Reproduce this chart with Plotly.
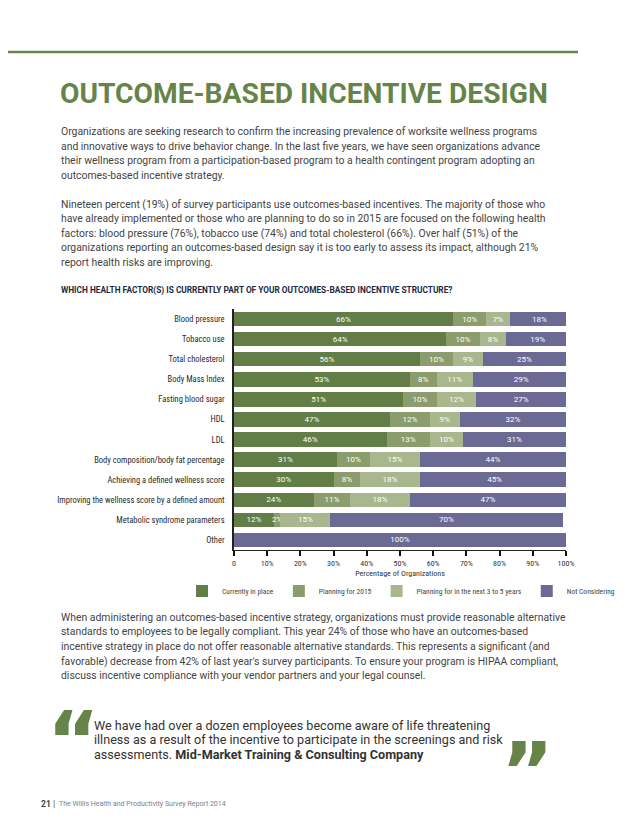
import plotly.graph_objects as go

categories = [
    "Blood pressure", "Tobacco use", "Total cholesterol", "Body Mass Index",
    "Fasting blood sugar", "HDL", "LDL", "Body composition/body fat percentage",
    "Achieving a defined wellness score", "Improving the wellness score by a defined amount",
    "Metabolic syndrome parameters", "Other",
]
series_names = ["Currently in place", "Planning for 2015", "Planning for in the next 3 to 5 years", "Not Considering"]
current = [66, 64, 56, 53, 51, 47, 46, 31, 30, 24, 12, 0]
plan_2015 = [10, 10, 10, 8, 10, 12, 13, 10, 8, 11, 2, 0]
plan_3to5 = [7, 8, 9, 11, 12, 9, 10, 15, 18, 18, 15, 0]
not_considering = [18, 19, 25, 29, 27, 32, 31, 44, 45, 47, 70, 100]
tick_vals = [0, 10, 20, 30, 40, 50, 60, 70, 80, 90, 100]
tick_text = ["0", "10%", "20%", "30%", "40%", "50%", "60%", "70%", "80%", "90%", "100%"]
colors = ["#627d45", "#8b9d6c", "#a9b78e", "#6b6a95"]

NARROW = "Liberation Sans Narrow, Roboto Condensed, DejaVu Sans Condensed, Roboto"

# the page body has an 8px margin; the figure starts at (8, 8) of the window
OFF = 8
FW, FH = 638 - OFF, 826 - OFF
L, R, T, B = 226, 72, 301, 276
PW, PH = FW - L - R, FH - T - B

def X(page_x):
    return (page_x - OFF - L) / PW

def Y(page_y):
    return (FH - B - (page_y - OFF)) / PH

fig = go.Figure()
for name, vals, col in zip(series_names, [current, plan_2015, plan_3to5, not_considering], colors):
    fig.add_trace(go.Bar(
        y=categories, x=vals, name=name, orientation="h",
        marker=dict(color=col, line=dict(width=0)),
        text=[f"{v}%" if v > 0 else "" for v in vals],
        textposition="inside", insidetextanchor="middle", textangle=0,
        textfont=dict(color="white", size=8, family="Roboto"),
        constraintext="none", cliponaxis=True,
    ))

fig.update_layout(
    width=FW, height=FH, autosize=False,
    margin=dict(l=L, r=R, t=T, b=B),
    barmode="stack", bargap=0.28,
    paper_bgcolor="white", plot_bgcolor="white",
    uniformtext=dict(minsize=8, mode="show"),
    font=dict(family="Roboto", color="#333333"),
    legend=dict(orientation="h", traceorder="normal", x=X(182), xanchor="left", y=Y(591),
                yanchor="middle", font=dict(size=7.5, color="#444444", family=NARROW),
                itemwidth=30, tracegroupgap=0, bgcolor="rgba(0,0,0,0)"),
    showlegend=True,
)
fig.update_xaxes(range=[0, 100], tickvals=tick_vals, ticktext=tick_text, showgrid=False,
                 zeroline=False, showline=True, linecolor="#222222", linewidth=1,
                 ticks="outside", ticklen=5, tickwidth=2, tickcolor="#111111",
                 tickfont=dict(size=8, color="#333333", family=NARROW),
                 title=dict(text="Percentage of Organizations",
                            font=dict(size=8, color="#333333", family=NARROW), standoff=3))
fig.update_yaxes(categoryorder="array", categoryarray=categories, autorange="reversed",
                 showgrid=False, showline=True, linecolor="#222222", linewidth=1.5,
                 ticks="", ticklabelstandoff=6,
                 tickfont=dict(size=8.5, color="#2b2b2b", family=NARROW))

# header rule
fig.add_shape(type="line", xref="paper", yref="paper", x0=X(OFF), x1=X(578), y0=Y(52), y1=Y(52),
              line=dict(color="#6b8550", width=2.5))

def text(x, y, s, size=10.4, color="#444444", family="Roboto", anchor="left"):
    fig.add_annotation(xref="paper", yref="paper", x=X(x), y=Y(y), text=s, showarrow=False,
                       xanchor=anchor, yanchor="middle", align="left",
                       font=dict(size=size, color=color, family=family))

text(58, 93, "<b>OUTCOME-BASED INCENTIVE DESIGN</b>", size=28.2, color="#66844a", family="Roboto")

p1 = [
    "Organizations are seeking research to confirm the increasing prevalence of worksite wellness programs",
    "and innovative ways to drive behavior change. In the last five years, we have seen organizations advance",
    "their wellness program from a participation-based program to a health contingent program adopting an",
    "outcomes-based incentive strategy.",
]
p1_y = [131, 146, 160.5, 175]
for s, y in zip(p1, p1_y):
    text(59, y, s)
p2 = [
    "Nineteen percent (19%) of survey participants use outcomes-based incentives. The majority of those who",
    "have already implemented or those who are planning to do so in 2015 are focused on the following health",
    "factors: blood pressure (76%), tobacco use (74%) and total cholesterol (66%). Over half (51%) of the",
    "organizations reporting an outcomes-based design say it is too early to assess its impact, although 21%",
    "report health risks are improving.",
]
p2_y = [204, 218.5, 233, 247.5, 262]
for s, y in zip(p2, p2_y):
    text(59, y, s)

text(59, 290, "<b>WHICH HEALTH FACTOR(S) IS CURRENTLY PART OF YOUR OUTCOMES-BASED INCENTIVE STRUCTURE?</b>",
     size=8.3, color="#1e2a45")

p3 = [
    "When administering an outcomes-based incentive strategy, organizations must provide reasonable alternative",
    "standards to employees to be legally compliant. This year 24% of those who have an outcomes-based",
    "incentive strategy in place do not offer reasonable alternative standards. This represents a significant (and",
    "favorable) decrease from 42% of last year's survey participants. To ensure your program is HIPAA compliant,",
    "discuss incentive compliance with your vendor partners and your legal counsel.",
]
p3_y = [617, 631.5, 646.5, 661, 675.5]
for s, y in zip(p3, p3_y):
    text(59, y, s)

q = [
    "We have had over a dozen employees become aware of life threatening",
    "illness as a result of the incentive to participate in the screenings and risk",
    "assessments. <b>Mid-Market Training &amp; Consulting Company</b>",
]
q_y = [725, 739.5, 754]
for s, y in zip(q, q_y):
    text(92, y, s, size=12.6, color="#333333")

text(45, 741, "<b>\u201c</b>", size=80, color="#66844a", family="DejaVu Sans")
text(499, 772, "<b>\u201d</b>", size=80, color="#66844a", family="DejaVu Sans")

text(39, 804, "<b>21</b>", size=8.5, color="#444444")
text(51, 803.5, "|", size=9, color="#555555")
text(57, 804, "The Willis Health and Productivity Survey Report 2014", size=7, color="#808080")

fig.write_html("out.html")
